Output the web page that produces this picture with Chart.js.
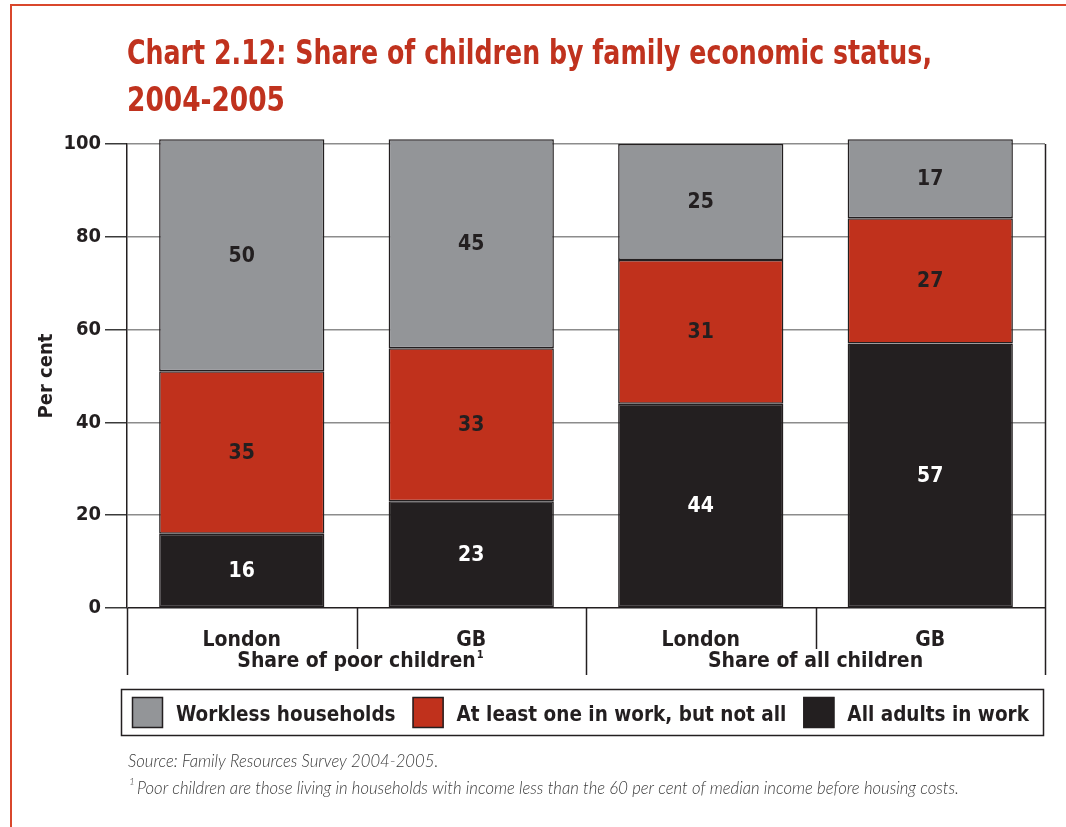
<!DOCTYPE html>
<html>
<head>
<meta charset="utf-8">
<title>Share of children by family economic status</title>
<script src="https://cdn.jsdelivr.net/npm/chart.js@4.4.1/dist/chart.umd.min.js"></script>
<style>
  html, body { margin: 0; padding: 0; background: #ffffff; }
  #wrap { position: relative; width: 1066px; height: 827px; overflow: hidden; background: #ffffff; }
  #frame {
    position: absolute; left: 10px; top: 4px; width: 1100px; height: 900px;
    border-top: 2px solid #d9472c; border-left: 2px solid #d9472c;
    box-sizing: border-box; pointer-events: none;
  }
  canvas { position: absolute; left: 0; top: 0; }
</style>
</head>
<body>
<div id="wrap">
  <canvas id="chart" width="1066" height="827"></canvas>
  <div id="frame"></div>
</div>
<script>
// ---- data ----
const categories = ['London', 'GB', 'London', 'GB'];
const groupLabels = ['Share of poor children', 'Share of all children'];
const groupNotes = ['1', ''];
const allAdultsInWork = [16, 23, 44, 57];
const atLeastOneInWork = [35, 33, 31, 27];
const worklessHouseholds = [50, 45, 25, 17];
const seriesNames = ['All adults in work', 'At least one in work, but not all', 'Workless households'];
const yTickValues = [0, 20, 40, 60, 80, 100];
const titleLines = ['Chart 2.12: Share of children by family economic status,', '2004-2005'];
const sourceLine = 'Source: Family Resources Survey 2004-2005.';
const footnoteMark = '1';
const footnoteLine = 'Poor children are those living in households with income less than the 60 per cent of median income before housing costs.';

// ---- styling ----
const BOLD = '"DejaVu Sans Condensed", "DejaVu Sans", sans-serif';
const LIGHT = 'Lato, "Open Sans", sans-serif';
const INK = '#231f20';
const RED = '#c0311c';
const GREY = '#939598';
const TITLE_RED = '#c0321e';

// decorations: title, dividers under the axis, group labels, legend, notes
const decorations = {
  id: 'decorations',
  afterDraw(chart) {
    const ctx = chart.ctx;
    const area = chart.chartArea;
    const x = chart.scales.x;
    ctx.save();

    // title (condensed to the column width)
    ctx.fillStyle = TITLE_RED;
    ctx.font = 'bold 34px ' + BOLD;
    ctx.textAlign = 'left';
    ctx.textBaseline = 'alphabetic';
    ctx.fillText(titleLines[0], 127, 64, 805);
    ctx.fillText(titleLines[1], 127, 111, 158);

    // category dividers below the axis
    ctx.strokeStyle = INK;
    ctx.lineWidth = 1.5;
    const n = categories.length;
    for (let i = 0; i <= n; i++) {
      const px = Math.round(x.getPixelForValue(i - 0.5)) + 0.5;
      const long = i % 2 === 0;
      ctx.beginPath();
      ctx.moveTo(px, long && (i === n) ? area.top : area.bottom);
      ctx.lineTo(px, area.bottom + (long ? 67 : 41));
      ctx.stroke();
    }

    // group labels
    ctx.fillStyle = INK;
    for (let g = 0; g < groupLabels.length; g++) {
      const cx = (x.getPixelForValue(2 * g - 0.5) + x.getPixelForValue(2 * g + 1.5)) / 2;
      ctx.font = 'bold 21px ' + BOLD;
      ctx.textAlign = 'center';
      ctx.fillText(groupLabels[g], cx, 667);
      if (groupNotes[g]) {
        const w = ctx.measureText(groupLabels[g]).width;
        ctx.font = 'bold 11px ' + BOLD;
        ctx.textAlign = 'left';
        ctx.fillText(groupNotes[g], cx + w / 2 + 1, 658);
      }
    }

    // legend
    const box = { left: 121, top: 689, right: 1043, bottom: 735 };
    ctx.strokeStyle = INK;
    ctx.lineWidth = 1.5;
    ctx.strokeRect(box.left + 0.5, box.top + 0.5, box.right - box.left, box.bottom - box.top);
    ctx.font = 'bold 20.5px ' + BOLD;
    ctx.textAlign = 'left';
    let lx = 132;
    const order = [2, 1, 0];
    order.forEach((di) => {
      const ds = chart.data.datasets[di];
      ctx.fillStyle = ds.backgroundColor;
      ctx.fillRect(lx, 697, 31, 31);
      ctx.strokeStyle = INK;
      ctx.lineWidth = 1.5;
      ctx.strokeRect(lx + 0.5, 697.5, 30, 30);
      ctx.fillStyle = INK;
      ctx.fillText(ds.label, lx + 44, 721);
      lx += 44 + ctx.measureText(ds.label).width + 17;
    });

    // notes
    ctx.fillStyle = '#3a3a3a';
    ctx.font = 'italic 300 16.7px ' + LIGHT;
    ctx.fillText(sourceLine, 128, 767);
    ctx.font = 'italic 300 10px ' + LIGHT;
    ctx.fillText(footnoteMark, 129, 785);
    ctx.font = 'italic 300 16.7px ' + LIGHT;
    ctx.fillText(footnoteLine, 137, 794);

    ctx.restore();
  }
};

// value labels centred in each segment
const valueLabels = {
  id: 'valueLabels',
  afterDatasetsDraw(chart) {
    const ctx = chart.ctx;
    ctx.save();
    ctx.font = 'bold 21px ' + BOLD;
    ctx.textAlign = 'center';
    ctx.textBaseline = 'middle';
    chart.data.datasets.forEach((ds, i) => {
      const meta = chart.getDatasetMeta(i);
      meta.data.forEach((bar, j) => {
        ctx.fillStyle = ds.labelColor;
        ctx.fillText(String(ds.data[j]), bar.x, (bar.y + bar.base) / 2 + 1);
      });
    });
    ctx.restore();
  }
};

new Chart(document.getElementById('chart').getContext('2d'), {
  type: 'bar',
  data: {
    labels: categories,
    datasets: [
      { label: seriesNames[0], data: allAdultsInWork, backgroundColor: INK, labelColor: '#ffffff' },
      { label: seriesNames[1], data: atLeastOneInWork, backgroundColor: RED, labelColor: INK },
      { label: seriesNames[2], data: worklessHouseholds, backgroundColor: GREY, labelColor: INK }
    ]
  },
  options: {
    responsive: false,
    animation: false,
    layout: { padding: { left: 0, right: 21, top: 144, bottom: 0 } },
    datasets: {
      bar: {
        categoryPercentage: 1,
        barPercentage: 0.72,
        borderColor: INK,
        borderWidth: 1.5,
        borderSkipped: false,
        clip: false
      }
    },
    plugins: {
      legend: { display: false },
      title: { display: false },
      tooltip: { enabled: false }
    },
    scales: {
      x: {
        stacked: true,
        offset: true,
        grid: { display: false, drawTicks: false },
        border: { display: false },
        ticks: { font: { family: BOLD, size: 21, weight: 'bold' }, color: INK, padding: 20, maxRotation: 0 },
        afterFit(scale) { scale.height = 219; }
      },
      y: {
        stacked: true,
        min: 0,
        max: 100,
        afterBuildTicks(scale) { scale.ticks = yTickValues.map(v => ({ value: v })); },
        ticks: { font: { family: BOLD, size: 20, weight: 'bold' }, color: INK, padding: 4 },
        grid: {
          color: (c) => (c.tick && c.tick.value === 0 ? INK : '#8c8c8c'),
          lineWidth: 1.5,
          tickLength: 22,
          tickColor: '#3a3a3a'
        },
        border: { color: INK, width: 1.5 },
        title: {
          display: true,
          text: 'Per cent',
          font: { family: BOLD, size: 20, weight: 'bold' },
          color: INK,
          padding: { top: 35, bottom: 0 }
        },
        afterFit(scale) { scale.width = 127; }
      }
    }
  },
  plugins: [valueLabels, decorations]
});
</script>
</body>
</html>
